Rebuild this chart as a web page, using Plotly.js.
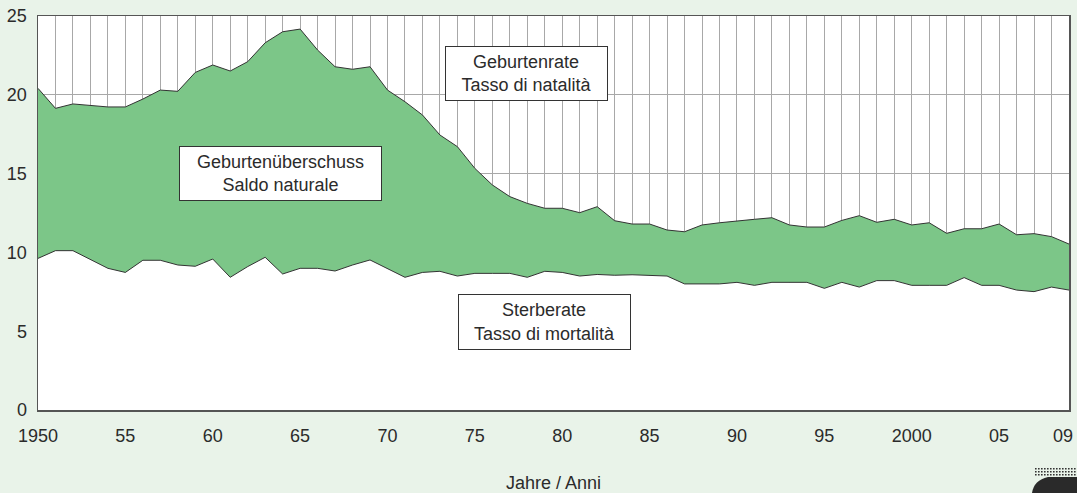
<!DOCTYPE html>
<html>
<head>
<meta charset="utf-8">
<script src="https://cdn.plot.ly/plotly-3.0.1.min.js"></script>
<style>
html,body{margin:0;padding:0;background:#e9f3e9;}
#chart{width:1077px;height:493px;}
</style>
</head>
<body>
<div id="chart"></div>
<script>
const years = [];
for (let y = 1950; y <= 2009; y++) years.push(y);

const birthRate = [
  20.41, 19.14, 19.42, 19.33, 19.23, 19.23, 19.73, 20.30, 20.22, 21.42,
  21.89, 21.51, 22.10, 23.30, 24.00, 24.17, 22.84, 21.78, 21.62, 21.78,
  20.30, 19.56, 18.72, 17.45, 16.71, 15.33, 14.28, 13.54, 13.11, 12.80,
  12.80, 12.52, 12.90, 12.01, 11.80, 11.80, 11.42, 11.31, 11.74, 11.88,
  11.97, 12.10, 12.20, 11.74, 11.61, 11.61, 12.03, 12.33, 11.91, 12.10,
  11.74, 11.88, 11.21, 11.50, 11.50, 11.80, 11.12, 11.19, 11.00, 10.53
];

const deathRate = [
  9.62, 10.11, 10.11, 9.56, 8.99, 8.73, 9.50, 9.50, 9.20, 9.12,
  9.58, 8.42, 9.10, 9.69, 8.63, 8.99, 8.99, 8.82, 9.20, 9.52,
  8.95, 8.42, 8.73, 8.80, 8.50, 8.67, 8.67, 8.67, 8.42, 8.80,
  8.73, 8.50, 8.60, 8.55, 8.58, 8.55, 8.50, 8.00, 8.00, 8.00,
  8.10, 7.91, 8.10, 8.10, 8.10, 7.72, 8.10, 7.80, 8.21, 8.21,
  7.91, 7.91, 7.91, 8.40, 7.91, 7.91, 7.61, 7.51, 7.80, 7.61
];

const xTickVals = [1950, 1955, 1960, 1965, 1970, 1975, 1980, 1985, 1990, 1995, 2000, 2005, 2009];
const xTickText = ['1950', '55', '60', '65', '70', '75', '80', '85', '90', '95', '2000', '05', '09'];
const yTickVals = [0, 5, 10, 15, 20, 25];

const labels = [
  {text: 'Geburtenrate<br>Tasso di natalità', x: 1977.94, y: 21.37, w: 159, h: 51},
  {text: 'Geburtenüberschuss<br>Saldo naturale', x: 1963.87, y: 15.02, w: 199, h: 51},
  {text: 'Sterberate<br>Tasso di mortalità', x: 1978.99, y: 5.58, w: 169, h: 52}
];

const font = 'Liberation Sans, Arial, sans-serif';
const textColor = '#2b2b2b';

const traces = [
  {
    x: years, y: deathRate, type: 'scatter', mode: 'lines',
    fill: 'tozeroy', fillcolor: '#ffffff',
    line: {color: '#333333', width: 1},
    hoverinfo: 'x+y'
  },
  {
    x: years, y: birthRate, type: 'scatter', mode: 'lines',
    fill: 'tonexty', fillcolor: '#7cc688',
    line: {color: '#333333', width: 1},
    hoverinfo: 'x+y'
  }
];

// small decorative halftone logo (bottom right), pixel positions converted to paper coords
const px2x = p => (p - 38) / 1031;
const px2y = p => (410 - p) / 394;
const logoShapes = [];
for (let row = 0; row < 3; row++) {
  for (let col = 0; col < 14; col++) {
    const cx = 1035 + col * 3, cy = 468 + row * 3;
    logoShapes.push({type: 'rect', xref: 'paper', yref: 'paper',
      x0: px2x(cx), x1: px2x(cx + 1.6), y0: px2y(cy + 1.6), y1: px2y(cy),
      fillcolor: '#333333', line: {width: 0}, layer: 'above'});
  }
}
logoShapes.push({type: 'path', xref: 'paper', yref: 'paper',
  path: `M ${px2x(1048)} ${px2y(477)} L ${px2x(1077)} ${px2y(477)} L ${px2x(1077)} ${px2y(493)} L ${px2x(1032)} ${px2y(493)} Q ${px2x(1034)} ${px2y(480)} ${px2x(1048)} ${px2y(477)} Z`,
  fillcolor: '#2a2a2a', line: {width: 0}, layer: 'above'});

const nTicks = xTickVals.length;
const layout = {
  width: 1077, height: 493,
  margin: {l: 38, r: 8, t: 16, b: 83},
  paper_bgcolor: '#e9f3e9',
  plot_bgcolor: '#ffffff',
  showlegend: false,
  font: {family: font, size: 18, color: textColor},
  xaxis: {
    range: [1950, 2009],
    tickvals: xTickVals.slice(0, nTicks - 1), ticktext: xTickText.slice(0, nTicks - 1),
    ticks: 'outside', ticklen: 9, tickcolor: 'rgba(0,0,0,0)',
    showgrid: true, gridcolor: '#a8a8a8', gridwidth: 1,
    minor: {dtick: 1, tick0: 1950, showgrid: true, gridcolor: '#a8a8a8', gridwidth: 1},
    showline: true, linecolor: '#555555', linewidth: 1.5, mirror: true,
    zeroline: false,
    tickfont: {family: font, size: 18, color: textColor},
    title: {text: ''}
  },
  yaxis: {
    range: [0, 25],
    tickvals: yTickVals,
    ticks: 'outside', ticklen: 6, tickcolor: 'rgba(0,0,0,0)',
    showgrid: true, gridcolor: '#a8a8a8', gridwidth: 1,
    showline: true, linecolor: '#555555', linewidth: 1.5, mirror: true,
    zeroline: false,
    tickfont: {family: font, size: 18, color: textColor}
  },
  shapes: logoShapes,
  annotations: labels.map(l => ({
    x: l.x, y: l.y, xref: 'x', yref: 'y',
    text: l.text, showarrow: false,
    font: {family: font, size: 18, color: textColor},
    bgcolor: '#ffffff', bordercolor: '#333333', borderwidth: 1, borderpad: 1,
    width: l.w, height: l.h, align: 'center', valign: 'middle'
  })).concat([{
    // last x tick label, right-aligned so it stays inside the page
    x: xTickVals[nTicks - 1], y: 0, xref: 'x', yref: 'y',
    text: xTickText[nTicks - 1], showarrow: false,
    font: {family: font, size: 18, color: textColor},
    xanchor: 'right', yanchor: 'middle', xshift: 6, yshift: -26
  }, {
    x: 0.5, y: -0.185, xref: 'paper', yref: 'paper',
    text: 'Jahre / Anni', showarrow: false,
    font: {family: font, size: 18, color: textColor},
    xanchor: 'center', yanchor: 'middle'
  }])
};

Plotly.newPlot('chart', traces, layout, {displayModeBar: false, staticPlot: true});
</script>
</body>
</html>
